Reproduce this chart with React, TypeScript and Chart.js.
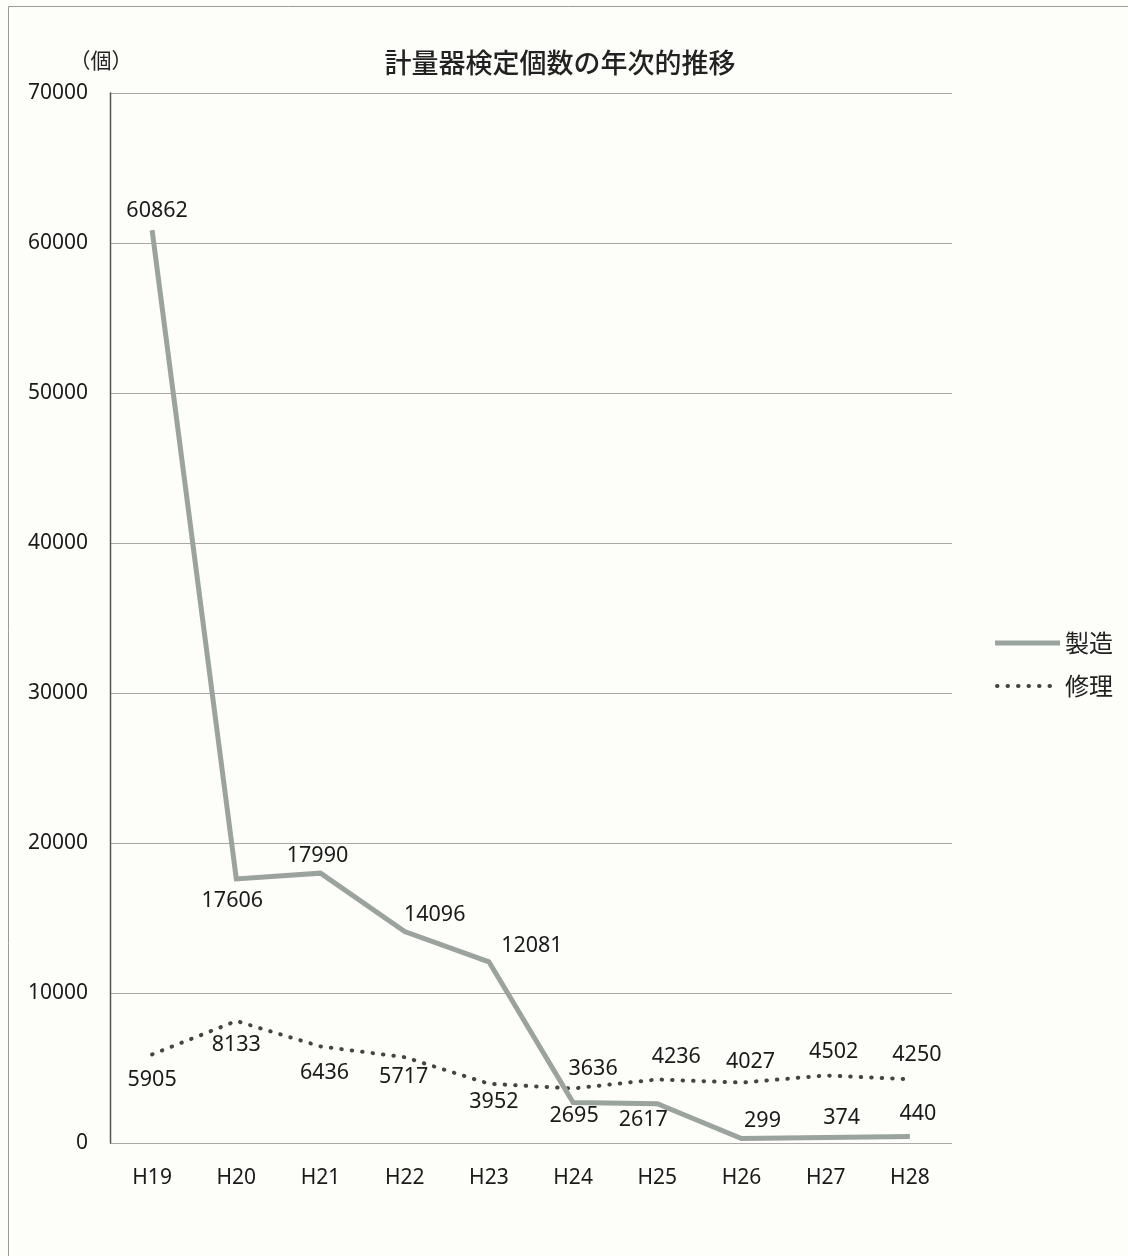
import React, { useEffect, useRef } from "react";
import { Chart, registerables } from "chart.js";

Chart.register(...registerables);

const categories = ["H19", "H20", "H21", "H22", "H23", "H24", "H25", "H26", "H27", "H28"];
const seizo = [60862, 17606, 17990, 14096, 12081, 2695, 2617, 299, 374, 440];
const shuri = [5905, 8133, 6436, 5717, 3952, 3636, 4236, 4027, 4502, 4250];
const seriesNames = ["製造", "修理"];
const yTicks = [0, 10000, 20000, 30000, 40000, 50000, 60000, 70000];
const titleText = "計量器検定個数の年次的推移";
const unitText = "（個）";

// label placement offsets (px) relative to each point
const seizoLabelOffsets = [
  [5, -19], [-4, 22], [-3, -17], [30, -17], [43, -16],
  [1, 13], [-14, 16], [21, -18], [16, -20], [8, -23],
];
const shuriLabelOffsets = [
  [0, 25], [0, 24], [4, 26], [-1, 20], [5, 18],
  [20, -20], [19, -23], [9, -21], [8, -24], [7, -24],
];

const FONT = "'Noto Sans', 'Noto Sans CJK JP', sans-serif";
const JP = "'Noto Sans CJK JP', 'Noto Sans', sans-serif";
const SOLID = "#9ba39f";
const DOT = "#444";

const decorPlugin = {
  id: "decor",
  beforeDraw(chart: any) {
    const ctx = chart.ctx;
    ctx.save();
    ctx.fillStyle = "#fdfdf9";
    ctx.fillRect(0, 0, chart.width, chart.height);
    ctx.strokeStyle = "#9a9a9a";
    ctx.lineWidth = 1;
    ctx.beginPath();
    ctx.moveTo(8.5, chart.height);
    ctx.lineTo(8.5, 6.5);
    ctx.lineTo(chart.width, 6.5);
    ctx.stroke();
    ctx.restore();
  },
  afterDraw(chart: any) {
    const ctx = chart.ctx;
    const ca = chart.chartArea;
    ctx.save();
    // title
    ctx.fillStyle = "#222";
    ctx.font = `500 27px ${JP}`;
    ctx.textAlign = "center";
    ctx.textBaseline = "middle";
    ctx.fillText(titleText, 560, 63);
    // unit
    ctx.font = `21px ${JP}`;
    ctx.fillText(unitText, 101, 60);
    // data labels
    const xs = chart.scales.x;
    const ys = chart.scales.y;
    ctx.font = `21.5px ${FONT}`;
    ctx.fillStyle = "#1a1a1a";
    const drawLabels = (vals: number[], offs: number[][]) => {
      vals.forEach((v, i) => {
        const px = xs.getPixelForValue(i);
        const py = ys.getPixelForValue(v);
        ctx.fillText(String(v), px + offs[i][0], py + offs[i][1]);
      });
    };
    drawLabels(seizo, seizoLabelOffsets);
    drawLabels(shuri, shuriLabelOffsets);
    // legend
    const lx0 = 995, lx1 = 1060;
    const ly1 = 643, ly2 = 686;
    ctx.strokeStyle = SOLID;
    ctx.lineWidth = 5;
    ctx.beginPath();
    ctx.moveTo(lx0, ly1);
    ctx.lineTo(lx1, ly1);
    ctx.stroke();
    ctx.strokeStyle = DOT;
    ctx.lineWidth = 4;
    ctx.lineCap = "round";
    ctx.setLineDash([0.5, 10]);
    ctx.beginPath();
    ctx.moveTo(lx0 + 2, ly2);
    ctx.lineTo(lx1 - 8, ly2);
    ctx.stroke();
    ctx.setLineDash([]);
    ctx.fillStyle = "#222";
    ctx.font = `24px ${JP}`;
    ctx.textAlign = "left";
    ctx.fillText(seriesNames[0], 1065, ly1);
    ctx.fillText(seriesNames[1], 1065, ly2);
    // left axis line
    ctx.strokeStyle = "#555";
    ctx.lineWidth = 1.5;
    ctx.beginPath();
    ctx.moveTo(ca.left + 0.5, ca.top);
    ctx.lineTo(ca.left + 0.5, ca.bottom);
    ctx.stroke();
    ctx.restore();
  },
};

export default function App() {
  const ref = useRef<HTMLCanvasElement | null>(null);
  useEffect(() => {
    if (!ref.current) return;
    const chart = new Chart(ref.current, {
      type: "line",
      data: {
        labels: categories,
        datasets: [
          {
            label: seriesNames[0],
            data: seizo,
            borderColor: SOLID,
            borderWidth: 5,
            pointRadius: 0,
            tension: 0,
            borderJoinStyle: "miter",
          },
          {
            label: seriesNames[1],
            data: shuri,
            borderColor: DOT,
            borderWidth: 4,
            borderDash: [0.5, 10],
            borderCapStyle: "round",
            pointRadius: 0,
            tension: 0,
          },
        ],
      },
      options: {
        animation: false,
        responsive: false,
        devicePixelRatio: 1,
        layout: { padding: { left: 0, right: 176, top: 93, bottom: 50 } },
        plugins: {
          legend: { display: false },
          title: { display: false },
          tooltip: { enabled: false },
        },
        scales: {
          x: {
            offset: true,
            grid: { display: false, drawTicks: false },
            border: { display: false },
            ticks: { color: "#1a1a1a", font: { family: FONT, size: 21 }, padding: 22 },
            afterFit: (s: any) => { s.height = 63; },
          },
          y: {
            min: 0,
            max: 70000,
            afterBuildTicks: (s: any) => { s.ticks = yTicks.map((v) => ({ value: v })); },
            grid: { color: "#a8a8a8", lineWidth: 1, drawTicks: false },
            border: { display: false },
            ticks: {
              color: "#1a1a1a",
              font: { family: FONT, size: 21 },
              padding: 22,
              callback: (v: any) => String(v),
            },
            afterFit: (s: any) => { s.width = 110; },
          },
        },
      },
      plugins: [decorPlugin],
    } as any);
    return () => chart.destroy();
  }, []);
  return (
    <div style={{ position: "absolute", left: 0, top: 0, width: 1128, height: 1256 }}>
      <canvas ref={ref} width={1128} height={1256} style={{ width: 1128, height: 1256, display: "block" }} />
    </div>
  );
}
